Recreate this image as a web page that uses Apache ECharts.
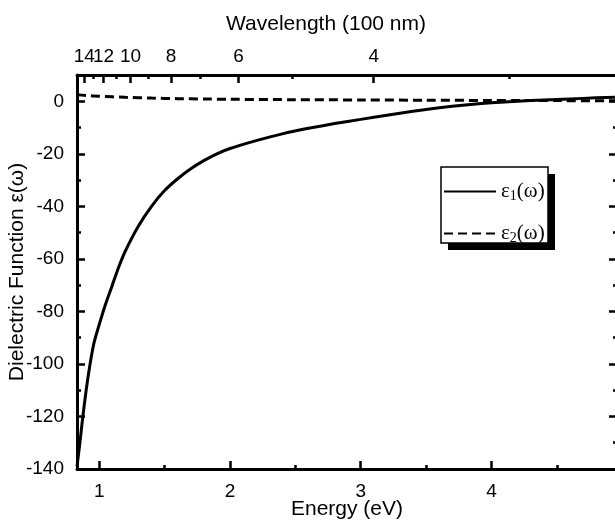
<!DOCTYPE html>
<html>
<head>
<meta charset="utf-8">
<script src="https://cdn.jsdelivr.net/npm/echarts@6/dist/echarts.min.js"></script>
<style>
  html, body { margin: 0; padding: 0; background: #fff; }
  #chart { width: 615px; height: 527px; }
</style>
</head>
<body>
<div id="chart"></div>
<script>
// energy (eV) and values
const eps1X = [0.83, 0.85, 0.87, 0.9, 0.93, 0.96, 1.0, 1.05, 1.1, 1.15, 1.2, 1.3, 1.4, 1.5, 1.6, 1.7, 1.8, 1.9,
  2.0, 2.2, 2.4, 2.6, 2.8, 3.0, 3.2, 3.4, 3.6, 3.8, 4.0, 4.2, 4.4, 4.6, 4.8, 4.96]
const eps1Y = [-139, -131, -122, -110, -100, -92, -85, -77, -70, -63, -57, -47.5, -40, -34, -29.5, -25.7, -22.6, -20,
  -18, -15, -12.4, -10.3, -8.5, -6.9, -5.3, -3.8, -2.5, -1.4, -0.6, 0, 0.5, 0.9, 1.3, 1.6]
const eps2X = [0.83, 0.9, 1.0, 1.2, 1.4, 1.6, 1.8, 2.0, 2.5, 3.0, 3.5, 4.0, 4.5, 4.96]
const eps2Y = [2.5, 2.2, 1.9, 1.5, 1.2, 1.0, 0.85, 0.75, 0.6, 0.5, 0.4, 0.3, 0.25, 0.2]

const energyMajor = [1, 2, 3, 4]
const energyMinor = [1.5, 2.5, 3.5, 4.5]
const lambdaMajor = [14, 12, 10, 8, 6, 4]
const lambdaMinor = [13, 11, 9, 7, 5, 3]
const lambdaFirst = [14] // labelled on its own axis so it is not hidden next to "12"
const yMajor = [-140, -120, -100, -80, -60, -40, -20, 0]
const yMinor = [-130, -110, -90, -70, -50, -30, -10]

const HC = 12.398 // eV * 100 nm
const X_MIN = 0.83
const X_MAX = 4.96

const toEnergy = l => HC / l
const zip = (xs, ys) => xs.map((x, i) => [x, ys[i]])

const font = 'Liberation Sans'
const tickLabel = { color: '#000', fontFamily: font, fontSize: 19, hideOverlap: false }
const nameStyle = { color: '#000', fontFamily: font, fontSize: 21 }
const lambdaLabel = v => String(Math.round(HC / v))

function xAx(position, majorTicks, opts) {
  return Object.assign({
    type: 'value',
    position: position,
    min: X_MIN,
    max: X_MAX,
    splitLine: { show: false },
    axisLine: { show: true, onZero: false, lineStyle: { color: '#000', width: 3 } },
    axisTick: { show: true, inside: true, length: 8, lineStyle: { color: '#000', width: 2.5 }, customValues: majorTicks },
    axisLabel: { show: false }
  }, opts || {})
}
function yAx(position, majorTicks, opts) {
  return Object.assign({
    type: 'value',
    position: position,
    min: -140,
    max: 10,
    splitLine: { show: false },
    axisLine: { show: true, onZero: false, lineStyle: { color: '#000', width: 3 } },
    axisTick: { show: true, inside: true, length: 8, lineStyle: { color: '#000', width: 2.5 }, customValues: majorTicks },
    axisLabel: { show: false }
  }, opts || {})
}
const minorTick = vals => ({ show: true, inside: true, length: 4, lineStyle: { color: '#000', width: 2.5 }, customValues: vals })

const option = {
  animation: false,
  backgroundColor: '#fff',
  title: {
    text: 'Wavelength (100 nm)',
    left: 321,
    top: 9,
    textAlign: 'center',
    textStyle: { color: '#000', fontFamily: font, fontSize: 21, fontWeight: 'normal' }
  },
  grid: { left: 77, right: -2, top: 75, bottom: 58, outerBoundsMode: 'none', containLabel: false },
  graphic: [
    { type: 'rect', z: 10, shape: { x: 448, y: 174, width: 107, height: 76 }, style: { fill: '#000' } },
    { type: 'rect', z: 11, shape: { x: 441, y: 167, width: 107, height: 76 }, style: { fill: '#fff', stroke: '#000', lineWidth: 1.5 } }
  ],
  legend: {
    orient: 'vertical',
    left: 441,
    top: 167,
    z: 20,
    padding: [14, 4, 14, 2],
    itemWidth: 52,
    itemHeight: 14,
    itemGap: 20,
    itemStyle: { opacity: 0 },
    data: ['eps1', 'eps2'],
    formatter: name => name === 'eps1' ? '{e|ε}{s|1}{e|(ω)}' : '{e|ε}{s|2}{e|(ω)}',
    textStyle: {
      color: '#000',
      rich: {
        e: { fontFamily: 'Liberation Serif', fontSize: 21, color: '#000' },
        s: { fontFamily: 'Liberation Serif', fontSize: 14, color: '#000', padding: [9, 0, 0, 0] }
      }
    }
  },
  xAxis: [
    xAx('bottom', energyMajor, {
      name: 'Energy (eV)',
      nameLocation: 'middle',
      nameGap: 30,
      nameMoveOverlap: false,
      nameTextStyle: nameStyle,
      axisLabel: Object.assign({ show: true, margin: 13, customValues: energyMajor }, tickLabel)
    }),
    xAx('bottom', energyMinor, { axisLine: { show: false, onZero: false }, axisTick: minorTick(energyMinor) }),
    xAx('top', lambdaMajor.map(toEnergy), {
      axisLabel: Object.assign({
        show: true,
        margin: 9,
        customValues: lambdaMajor.filter(l => l !== 14).map(toEnergy),
        formatter: lambdaLabel
      }, tickLabel)
    }),
    xAx('top', lambdaMinor.map(toEnergy), {
      axisLine: { show: false, onZero: false },
      axisTick: minorTick(lambdaMinor.map(toEnergy)),
      axisLabel: Object.assign({
        show: true,
        margin: 9,
        customValues: lambdaFirst.map(toEnergy),
        formatter: lambdaLabel
      }, tickLabel)
    })
  ],
  yAxis: [
    yAx('left', yMajor, {
      name: 'Dielectric Function ε(ω)',
      nameLocation: 'middle',
      nameGap: 49,
      nameMoveOverlap: false,
      nameTextStyle: nameStyle,
      axisLabel: Object.assign({ show: true, margin: 13, customValues: yMajor }, tickLabel)
    }),
    yAx('left', yMinor, { axisLine: { show: false, onZero: false }, axisTick: minorTick(yMinor) }),
    yAx('right', yMajor),
    yAx('right', yMinor, { axisLine: { show: false, onZero: false }, axisTick: minorTick(yMinor) })
  ],
  series: [
    {
      name: 'eps1',
      type: 'line',
      xAxisIndex: 0,
      yAxisIndex: 0,
      data: zip(eps1X, eps1Y),
      symbol: 'none',
      smooth: 0.2,
      lineStyle: { color: '#000', width: 3, type: 'solid' },
      itemStyle: { color: '#000' }
    },
    {
      name: 'eps2',
      type: 'line',
      xAxisIndex: 0,
      yAxisIndex: 0,
      data: zip(eps2X, eps2Y),
      symbol: 'none',
      smooth: 0.2,
      lineStyle: { color: '#000', width: 3, type: [9, 5] },
      itemStyle: { color: '#000' }
    }
  ]
}

const myChart = echarts.init(document.getElementById('chart'))
myChart.setOption(option, true)
</script>
</body>
</html>
